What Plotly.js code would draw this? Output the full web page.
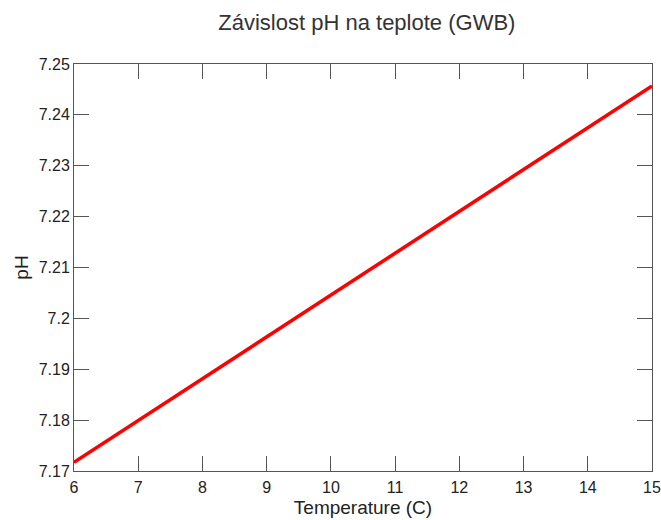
<!DOCTYPE html>
<html>
<head>
<meta charset="utf-8">
<script src="https://cdn.plot.ly/plotly-3.0.1.min.js"></script>
<style>html,body{margin:0;padding:0;background:#fff;}#chart{width:661px;height:520px;}</style>
</head>
<body>
<div id="chart"></div>
<script>
const temperature = [6, 7, 8, 9, 10, 11, 12, 13, 14, 15];
const pH = [7.1717, 7.1799, 7.1881, 7.1964, 7.2046, 7.2128, 7.2211, 7.2293, 7.2375, 7.2457];
const xTicks = [6, 7, 8, 9, 10, 11, 12, 13, 14, 15];
const yTicks = [7.17, 7.18, 7.19, 7.2, 7.21, 7.22, 7.23, 7.24, 7.25];
const yTickLabels = ["7.17", "7.18", "7.19", "7.2", "7.21", "7.22", "7.23", "7.24", "7.25"];

const FONT = 'Liberation Sans, Arial, sans-serif';
const axisCommon = {
  showgrid: false, zeroline: false, showline: true, linecolor: '#555', linewidth: 1,
  mirror: 'ticks', ticks: 'inside', ticklen: 15, tickcolor: '#555', tickwidth: 1,
  tickfont: {family: FONT, size: 16, color: '#222'}
};

Plotly.newPlot('chart', [{
  x: temperature, y: pH, type: 'scatter', mode: 'lines',
  line: {color: '#ff0000', width: 3.5}
}], {
  width: 661, height: 520,
  margin: {l: 74, r: 9, t: 64, b: 49},
  paper_bgcolor: '#fff', plot_bgcolor: '#fff',
  showlegend: false,
  title: {text: 'Závislost pH na teplote (GWB)', x: 0.555, xanchor: 'center', y: 0.958, yanchor: 'middle',
    font: {family: FONT, size: 22, color: '#333'}},
  xaxis: Object.assign({}, axisCommon, {range: [6, 15], tickvals: xTicks, ticktext: xTicks.map(String),
    ticklabelstandoff: 2,
    title: {text: 'Temperature (C)', standoff: 5, font: {family: FONT, size: 19, color: '#222'}}}),
  yaxis: Object.assign({}, axisCommon, {range: [7.17, 7.25], tickvals: yTicks, ticktext: yTickLabels,
    title: {text: 'pH', standoff: 5, font: {family: FONT, size: 19, color: '#222'}}})
}, {displayModeBar: false, staticPlot: true});
</script>
</body>
</html>
